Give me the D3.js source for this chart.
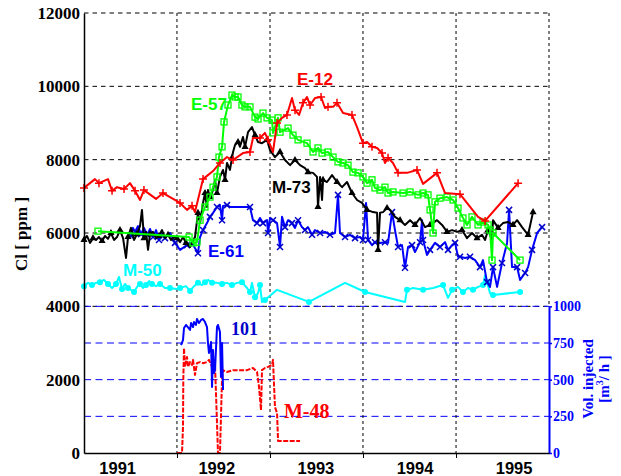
<!DOCTYPE html>
<html>
<head>
<meta charset="utf-8">
<script src="https://cdn.jsdelivr.net/npm/d3@7"></script>
<style>
  body { margin: 0; background: #fff; }
  .serif { font-family: "Liberation Serif", "Times New Roman", serif; font-weight: bold; }
  .sans { font-family: "Liberation Sans", Arial, sans-serif; font-weight: bold; }
</style>
</head>
<body>
<div id="chart"></div>
<script>
// ---- data (x = decimal year, y = Cl ppm, or m3/h for the injection well)
var clTicks = [0, 2000, 4000, 6000, 8000, 10000, 12000];
var volTicks = [0, 250, 500, 750, 1000];
var gridYears = [1991.598, 1992.537, 1993.475, 1994.414];
var yearLabels = [1991, 1992, 1993, 1994, 1995];

var e12 = [[1990.660,7230],[1990.771,7470],[1990.811,7360],[1990.902,7470],[1990.943,7150],[1990.993,7250],[1991.064,7200],[1991.124,7360],[1991.175,7150],[1991.225,6900],[1991.265,7170],[1991.387,6930],[1991.457,7090],[1991.528,6980],[1991.629,6820],[1991.699,6630],[1991.750,6740],[1991.780,6570],[1991.861,7470],[1991.962,7690],[1992.032,7910],[1992.103,8070],[1992.164,7990],[1992.264,8180],[1992.335,8210],[1992.365,8590],[1992.436,8590],[1992.486,8730],[1992.517,8540],[1992.567,8210],[1992.608,9000],[1992.658,9140],[1992.708,9220],[1992.759,9680],[1992.789,9350],[1992.830,9220],[1992.870,9550],[1992.910,9710],[1992.941,9490],[1992.991,9680],[1993.052,9710],[1993.092,9410],[1993.122,9440],[1993.173,9440],[1993.213,9550],[1993.274,9270],[1993.364,9220],[1993.415,8890],[1993.475,8450],[1993.516,8480],[1993.566,8350],[1993.617,8320],[1993.667,8180],[1993.697,7910],[1993.728,8050],[1993.778,7910],[1993.829,7640],[1993.919,7640],[1994.020,7720],[1994.081,7340],[1994.222,7640],[1994.303,7090],[1994.454,7060],[1994.636,6440],[1994.707,6330],[1995.040,7360]];

var e57 = [[1990.801,6050],[1991.720,5890],[1991.760,5730],[1991.800,5750],[1991.831,6350],[1991.881,6710],[1991.931,6980],[1991.962,7250],[1992.002,7530],[1992.022,8070],[1992.053,8350],[1992.073,9030],[1992.113,9490],[1992.153,9760],[1992.184,9710],[1992.214,9710],[1992.254,9490],[1992.285,9440],[1992.335,9440],[1992.386,9160],[1992.416,9110],[1992.466,9270],[1992.507,9140],[1992.557,9080],[1992.567,8730],[1992.618,9140],[1992.638,8750],[1992.719,8860],[1992.769,8670],[1992.820,8540],[1992.910,8450],[1992.971,8210],[1993.021,8320],[1993.062,8180],[1993.122,8210],[1993.173,8070],[1993.223,7940],[1993.274,7910],[1993.324,7850],[1993.374,7660],[1993.425,7640],[1993.475,7530],[1993.516,7360],[1993.566,7450],[1993.596,7230],[1993.647,7170],[1993.697,7250],[1993.728,7090],[1993.778,7120],[1993.879,7090],[1993.950,7120],[1994.030,7040],[1994.081,7090],[1994.131,7040],[1994.152,6630],[1994.182,6000],[1994.202,6850],[1994.252,6950],[1994.323,6980],[1994.384,6900],[1994.434,6680],[1994.484,6410],[1994.525,6220],[1994.575,6440],[1994.636,6220],[1994.686,6300],[1994.737,6220],[1994.757,6080],[1994.777,5260],[1994.787,6000],[1995.060,5260]];

var m73 = [[1990.660,5810],[1990.690,5920],[1990.721,5730],[1990.751,5860],[1990.781,5810],[1990.811,5890],[1990.842,5780],[1990.872,5920],[1990.902,5840],[1990.932,6000],[1990.963,5810],[1990.993,5890],[1991.023,6080],[1991.054,5860],[1991.084,5320],[1991.104,5890],[1991.134,6140],[1991.165,5810],[1991.195,5970],[1991.225,6190],[1991.245,6630],[1991.265,5860],[1991.286,6030],[1991.306,5540],[1991.326,5970],[1991.356,6030],[1991.387,5860],[1991.417,5920],[1991.447,6080],[1991.477,5860],[1991.508,5950],[1991.538,5810],[1991.568,5890],[1991.598,5860],[1991.629,5750],[1991.659,5890],[1991.689,5730],[1991.730,5620],[1991.780,5890],[1991.810,6550],[1991.831,6270],[1991.861,6820],[1991.881,7090],[1991.901,6710],[1991.911,7170],[1991.931,6980],[1991.962,7170],[1991.982,7450],[1992.002,7090],[1992.032,7530],[1992.063,7720],[1992.083,7450],[1992.103,7910],[1992.133,7720],[1992.153,8050],[1992.164,8210],[1992.184,8400],[1992.214,8480],[1992.234,8350],[1992.264,8620],[1992.285,8350],[1992.315,8750],[1992.355,8890],[1992.386,8670],[1992.416,8480],[1992.456,8450],[1992.507,8540],[1992.537,8260],[1992.587,8070],[1992.638,8210],[1992.688,7990],[1992.739,7850],[1992.789,7990],[1992.840,7850],[1992.890,7770],[1992.920,7660],[1992.971,7640],[1993.011,7530],[1993.021,6710],[1993.042,7530],[1993.062,6900],[1993.072,7450],[1993.112,7390],[1993.163,7580],[1993.213,7390],[1993.264,7250],[1993.314,7390],[1993.364,7090],[1993.415,6900],[1993.465,6820],[1993.516,6630],[1993.576,6570],[1993.617,6550],[1993.627,5540],[1993.647,6550],[1993.677,6570],[1993.718,6680],[1993.748,6630],[1993.798,6440],[1993.849,6350],[1993.899,6220],[1993.950,6350],[1994.000,6220],[1994.051,6410],[1994.101,6160],[1994.152,6220],[1994.222,6350],[1994.273,6220],[1994.323,6030],[1994.374,6080],[1994.424,6030],[1994.474,6080],[1994.525,5860],[1994.575,6000],[1994.626,5860],[1994.676,5950],[1994.707,5810],[1994.737,6080],[1994.777,5810],[1994.787,6350],[1994.838,6140],[1994.888,6270],[1994.939,6300],[1994.989,6220],[1995.030,6350],[1995.080,6160],[1995.141,5950],[1995.191,6570]];

var e61 = [[1991.134,5920],[1991.154,6140],[1991.175,6030],[1991.205,6190],[1991.235,5970],[1991.265,6140],[1991.296,5950],[1991.326,6110],[1991.356,5890],[1991.387,6080],[1991.417,5810],[1991.447,6000],[1991.477,5860],[1991.528,6000],[1991.578,5730],[1991.629,5540],[1991.699,5670],[1991.750,5730],[1991.810,5450],[1991.831,5890],[1991.861,6080],[1991.901,6270],[1991.931,6440],[1991.962,6550],[1992.002,6710],[1992.032,6760],[1992.053,6350],[1992.063,6740],[1992.103,6760],[1992.133,6710],[1992.335,6710],[1992.365,6350],[1992.406,6270],[1992.436,6410],[1992.466,6270],[1992.507,6350],[1992.517,6000],[1992.537,6410],[1992.567,6350],[1992.608,6270],[1992.638,5620],[1992.658,6440],[1992.688,6160],[1992.719,6350],[1992.759,6270],[1992.789,6140],[1992.820,6350],[1992.860,6160],[1992.890,6080],[1992.920,6160],[1992.961,5950],[1992.991,6080],[1993.042,6000],[1993.092,6030],[1993.142,5950],[1993.193,6000],[1993.223,7040],[1993.243,6000],[1993.294,5890],[1993.344,5950],[1993.395,5860],[1993.445,5890],[1993.475,5810],[1993.506,6820],[1993.526,5810],[1993.566,5670],[1993.596,5750],[1993.647,5730],[1993.697,5750],[1993.728,5730],[1993.768,6570],[1993.798,6080],[1993.829,5620],[1993.869,5670],[1993.899,5050],[1993.930,5620],[1993.970,5670],[1994.000,5480],[1994.051,5750],[1994.071,6350],[1994.081,5810],[1994.121,5400],[1994.152,5540],[1994.202,5730],[1994.252,5620],[1994.303,5750],[1994.333,5540],[1994.374,5670],[1994.404,5730],[1994.434,5350],[1994.454,5350],[1994.505,5320],[1994.555,5350],[1994.606,5260],[1994.656,5070],[1994.686,5260],[1994.727,4660],[1994.757,4530],[1994.787,5070],[1994.828,4530],[1994.878,5180],[1994.929,5730],[1994.949,6630],[1994.979,5070],[1995.030,5070],[1995.060,4720],[1995.111,4910],[1995.141,5070],[1995.181,5540],[1995.232,6000],[1995.282,6160]];

var m50 = [[1990.660,4550],[1990.700,4640],[1990.741,4580],[1990.781,4640],[1990.821,4660],[1990.862,4720],[1990.902,4610],[1990.943,4500],[1990.983,4610],[1991.013,4800],[1991.044,4470],[1991.074,4610],[1991.104,4500],[1991.134,4450],[1991.165,4390],[1991.195,4530],[1991.225,4610],[1991.255,4500],[1991.286,4580],[1991.316,4690],[1991.346,4610],[1991.387,4550],[1991.427,4610],[1991.477,4500],[1991.528,4500],[1991.588,4470],[1991.629,4500],[1991.689,4550],[1991.730,4420],[1991.770,4550],[1991.810,4640],[1991.851,4580],[1991.881,4660],[1991.911,4720],[1991.952,4640],[1992.002,4640],[1992.053,4610],[1992.103,4640],[1992.153,4580],[1992.204,4640],[1992.254,4660],[1992.305,4500],[1992.335,4390],[1992.355,4640],[1992.386,4250],[1992.416,4360],[1992.436,4580],[1992.456,4120],[1992.486,4170],[1992.608,4450],[1992.930,4120],[1993.294,4640],[1993.496,4390],[1993.899,4120],[1993.919,4450],[1993.980,4500],[1994.081,4450],[1994.182,4500],[1994.283,4580],[1994.333,4230],[1994.374,4450],[1994.434,4530],[1994.484,4390],[1994.535,4500],[1994.585,4450],[1994.636,4530],[1994.686,4580],[1994.707,4850],[1994.727,4660],[1994.757,4360],[1994.787,4310],[1995.060,4390]];

// well 101, volume injected [m3/h]
var inj101 = [[1991.639,736],[1991.659,770],[1991.669,852],[1991.689,873],[1991.730,839],[1991.740,886],[1991.760,859],[1991.770,893],[1991.790,873],[1991.800,914],[1991.820,886],[1991.841,907],[1991.861,914],[1991.881,893],[1991.901,859],[1991.911,750],[1991.921,682],[1991.942,757],[1991.952,450],[1991.962,702],[1991.972,545],[1991.982,566],[1992.002,859],[1992.012,873],[1992.032,825],[1992.042,518],[1992.053,750],[1992.063,430]];

var m48 = [[1991.598,0],[1991.649,0],[1991.659,710],[1991.662,2000],[1991.669,2860],[1991.679,2350],[1991.699,2620],[1991.710,2350],[1991.730,2480],[1991.750,2400],[1991.760,2540],[1991.780,2130],[1991.800,2450],[1991.831,2480],[1991.861,2450],[1991.901,2480],[1991.921,2540],[1991.952,2350],[1991.962,2260],[1991.982,2400],[1992.002,820],[1992.012,0],[1992.032,0],[1992.042,980],[1992.053,2050],[1992.063,2260],[1992.103,2210],[1992.164,2260],[1992.234,2260],[1992.305,2260],[1992.365,2320],[1992.406,2210],[1992.426,1800],[1992.446,1170],[1992.456,2260],[1992.486,2320],[1992.517,2350],[1992.557,2400],[1992.567,2540],[1992.587,1250],[1992.608,1090],[1992.618,330],[1992.840,330]];

// ---- layout
var margin = { top: 13, right: 72, bottom: 23, left: 84 },
    width = 621 - margin.left - margin.right,
    height = 476 - margin.top - margin.bottom;

var x = d3.scaleLinear().domain([1990.66, 1995.352]).range([0, width]);
var y = d3.scaleLinear().domain([0, 12000]).range([height, 0]);
var yVol = d3.scaleLinear().domain([0, 1000]).range([height, y(4000)]);

var svg = d3.select("#chart")
  .append("svg")
  .attr("width", 621)
  .attr("height", 476)
  .style("background", "#fff")
  .append("g")
  .attr("transform", "translate(" + margin.left + "," + margin.top + ")");

// grid: black dashed in the Cl part, blue dashed in the injection part
svg.selectAll(".hgrid")
  .data(clTicks.filter(function (d) { return d >= 4000; }))
  .enter().append("line")
  .attr("x1", 0).attr("x2", width)
  .attr("y1", function (d) { return y(d); })
  .attr("y2", function (d) { return y(d); })
  .attr("stroke", "#000").attr("stroke-width", 1)
  .attr("stroke-dasharray", "4.5,4");

svg.selectAll(".vgrid")
  .data(volTicks.filter(function (d) { return d > 0; }))
  .enter().append("line")
  .attr("x1", 0).attr("x2", width)
  .attr("y1", function (d) { return yVol(d); })
  .attr("y2", function (d) { return yVol(d); })
  .attr("stroke", "#0000ff").attr("stroke-width", 1)
  .attr("stroke-dasharray", "7,4.5");

svg.selectAll(".xgrid")
  .data(gridYears)
  .enter().append("line")
  .attr("x1", function (d) { return x(d); })
  .attr("x2", function (d) { return x(d); })
  .attr("y1", 0).attr("y2", height)
  .attr("stroke", "#000").attr("stroke-width", 1)
  .attr("stroke-dasharray", "3,3");

// right edge above the volume axis
svg.append("line")
  .attr("x1", width).attr("x2", width)
  .attr("y1", 0).attr("y2", yVol(1000))
  .attr("stroke", "#000").attr("stroke-width", 1)
  .attr("stroke-dasharray", "3,3");

// ---- series
var line = d3.line().x(function (d) { return x(d[0]); }).y(function (d) { return y(d[1]); });
var lineVol = d3.line().x(function (d) { return x(d[0]); }).y(function (d) { return yVol(d[1]); });

function every(arr, n) {
  return arr.filter(function (d, i) { return i % n === 0 || i === arr.length - 1; });
}

function drawLine(data, color, w) {
  return svg.append("path").datum(data)
    .attr("fill", "none").attr("stroke", color)
    .attr("stroke-width", w).attr("stroke-linejoin", "round")
    .attr("d", line);
}

// M-50 (cyan, dots)
drawLine(m50, "#00ffff", 2);
svg.selectAll(".m50").data(every(m50, 2)).enter().append("circle")
  .attr("cx", function (d) { return x(d[0]); })
  .attr("cy", function (d) { return y(d[1]); })
  .attr("r", 3).attr("fill", "#00ffff");

// E-61 (blue, x)
drawLine(e61, "#0000ff", 2);
svg.selectAll(".e61").data(every(e61, 2)).enter().append("path")
  .attr("transform", function (d) { return "translate(" + x(d[0]) + "," + y(d[1]) + ")"; })
  .attr("d", "M-3,-3L3,3M-3,3L3,-3")
  .attr("stroke", "#0000cc").attr("stroke-width", 1.5);

// M-73 (black, triangles)
drawLine(m73, "#000", 2);
svg.selectAll(".m73").data(every(m73, 3)).enter().append("path")
  .attr("transform", function (d) { return "translate(" + x(d[0]) + "," + y(d[1]) + ")"; })
  .attr("d", d3.symbol().type(d3.symbolTriangle).size(22))
  .attr("fill", "#000");

// E-57 (green, open squares)
drawLine(e57, "#00ff00", 2);
svg.selectAll(".e57").data(every(e57, 1)).enter().append("rect")
  .attr("x", function (d) { return x(d[0]) - 3; })
  .attr("y", function (d) { return y(d[1]) - 3; })
  .attr("width", 6).attr("height", 6)
  .attr("fill", "none").attr("stroke", "#00ff00").attr("stroke-width", 1.3);

// E-12 (red, plus)
drawLine(e12, "#ff0000", 2);
svg.selectAll(".e12").data(every(e12, 2)).enter().append("path")
  .attr("transform", function (d) { return "translate(" + x(d[0]) + "," + y(d[1]) + ")"; })
  .attr("d", "M-4,0H4M0,-4V4")
  .attr("stroke", "#ff0000").attr("stroke-width", 1.5);

// M-48 (red dashed) and well 101 injection (blue, right axis)
drawLine(m48, "#ff0000", 2).attr("stroke-dasharray", "5,1.5");
svg.append("path").datum(inj101)
  .attr("fill", "none").attr("stroke", "#0000ff")
  .attr("stroke-width", 2).attr("stroke-linejoin", "round")
  .attr("d", lineVol);

// ---- axes
var yAxis = d3.axisLeft(y).tickValues(clTicks).tickSize(0).tickPadding(4).tickFormat(d3.format("d"));
var gy = svg.append("g").attr("class", "serif").call(yAxis);
gy.select(".domain").attr("stroke-width", 1.5);
gy.selectAll("text").style("font-size", "17px").attr("fill", "#000");

var volAxis = d3.axisRight(yVol).tickValues(volTicks).tickSize(3).tickSizeOuter(0).tickPadding(1).tickFormat(d3.format("d"));
var gv = svg.append("g").attr("class", "serif")
  .attr("transform", "translate(" + width + ",0)")
  .call(volAxis);
gv.select(".domain").attr("stroke", "#0000ff").attr("stroke-width", 2);
gv.selectAll(".tick line").attr("stroke", "#0000ff").attr("stroke-width", 1.5);
gv.selectAll("text").style("font-size", "14px").attr("fill", "#0000ff");

var xAxis = d3.axisBottom(x).tickValues(gridYears).tickSize(5).tickSizeOuter(0).tickFormat("");
var gx = svg.append("g").attr("transform", "translate(0," + height + ")").call(xAxis);
gx.select(".domain").attr("stroke-width", 1.5);

svg.selectAll(".yearlab").data(yearLabels).enter().append("text")
  .attr("class", "sans")
  .attr("x", function (d) { return x(d); })
  .attr("y", height + 21)
  .attr("text-anchor", "middle")
  .style("font-size", "16.5px")
  .text(function (d) { return d; });

// axis titles
svg.append("text").attr("class", "serif")
  .attr("transform", "translate(" + (27 - margin.left) + "," + (234 - margin.top) + ") rotate(-90)")
  .attr("text-anchor", "middle")
  .style("font-size", "17px")
  .text("Cl [ ppm ]");

var vt = svg.append("text").attr("class", "serif")
  .attr("transform", "translate(" + (width + 44) + "," + (379 - margin.top) + ") rotate(-90)")
  .attr("text-anchor", "middle")
  .attr("fill", "#0000ff")
  .style("font-size", "15px");
vt.append("tspan").attr("x", 0).attr("dy", 0).text("Vol. injected");
vt.append("tspan").attr("x", 0).attr("dy", 16).text("[m");
vt.append("tspan").attr("dy", -6).style("font-size", "10px").text("3");
vt.append("tspan").attr("dy", 6).text("/ h ]");

// series labels
var labels = [
  { text: "E-12", x: 1992.809, y: 10036, color: "#ff0000", cls: "sans", size: 17 },
  { text: "E-57", x: 1991.740, y: 9354, color: "#00ff00", cls: "sans", size: 17 },
  { text: "M-73", x: 1992.557, y: 7090, color: "#000", cls: "sans", size: 17 },
  { text: "E-61", x: 1991.911, y: 5345, color: "#0000ff", cls: "sans", size: 17 },
  { text: "M-50", x: 1991.054, y: 4827, color: "#00ffff", cls: "sans", size: 17 },
  { text: "101", x: 1992.143, y: 3218, color: "#0000cc", cls: "serif", size: 18 },
  { text: "M-48", x: 1992.678, y: 955, color: "#ff0000", cls: "serif", size: 20 }
];
labels.forEach(function (l) {
  svg.append("text").attr("class", l.cls)
    .attr("x", x(l.x)).attr("y", y(l.y))
    .attr("fill", l.color)
    .style("font-size", l.size + "px")
    .text(l.text);
});
</script>
</body>
</html>
